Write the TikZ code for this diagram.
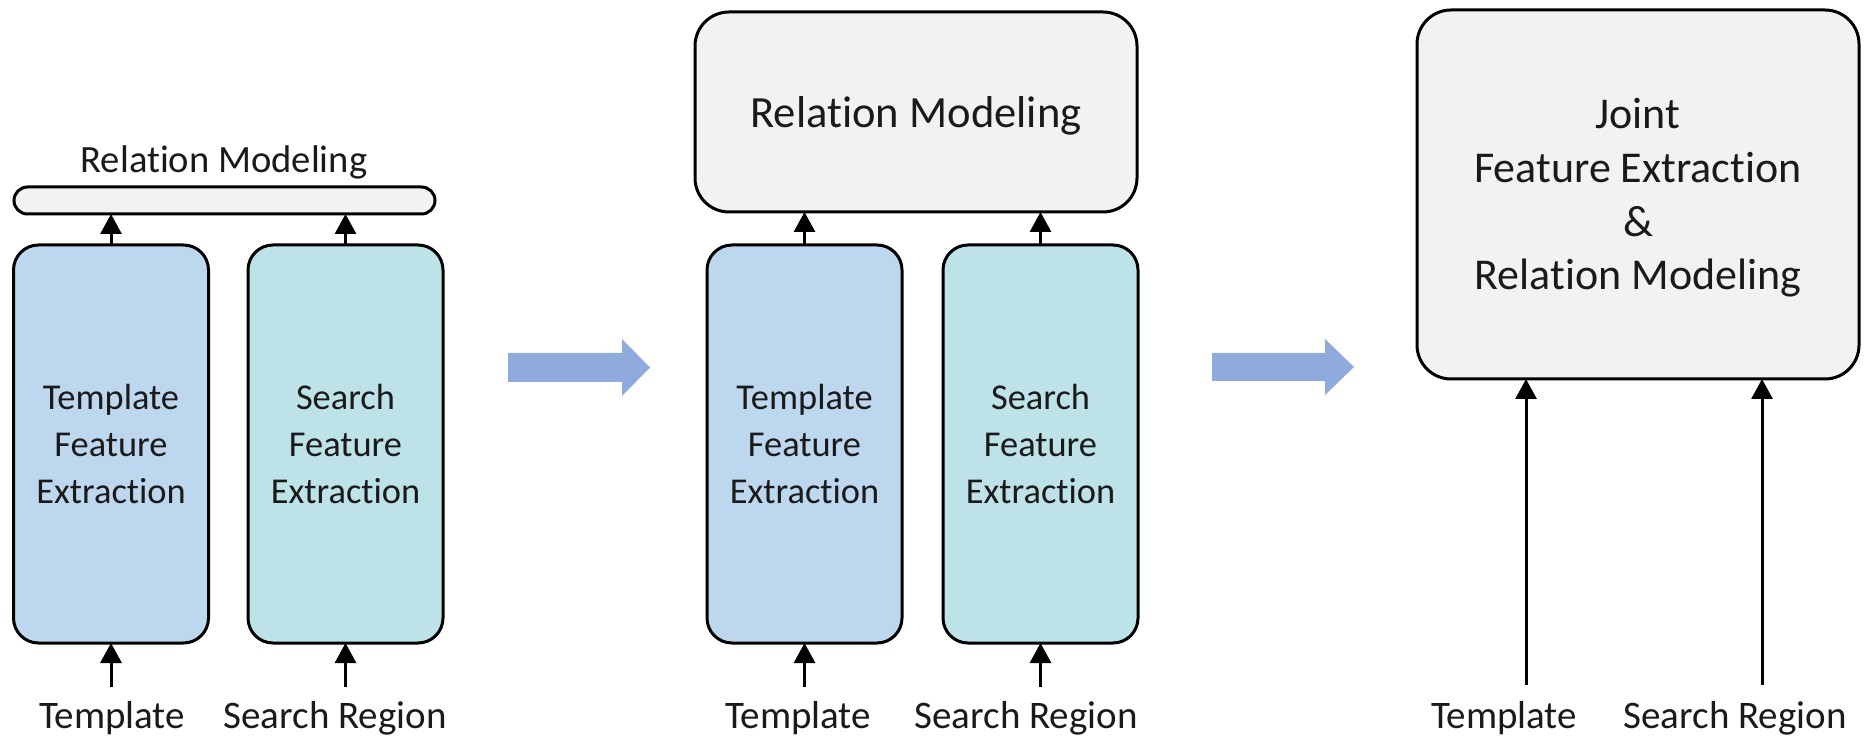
\documentclass[tikz,border=0pt]{standalone}
\usepackage{fontspec}
\setmainfont{Carlito}[Ligatures={NoCommon,NoRequired,NoContextual}]
\usetikzlibrary{arrows.meta}
\definecolor{boxblue}{HTML}{BDD7EE}
\definecolor{boxteal}{HTML}{BDE2E7}
\definecolor{boxgray}{HTML}{F2F2F2}
\definecolor{bigarrow}{HTML}{8FAADC}
\definecolor{txt}{HTML}{1A1A1A}
\begin{document}
\begin{tikzpicture}[x=0.5pt,y=-0.5pt,
  every node/.style={inner sep=0pt, outer sep=0pt, text=txt},
  featbox/.style={draw=black, line width=1.5pt, rounded corners=12.5pt, minimum width=97.5pt, minimum height=199pt, align=center, font=\fontsize{18.2}{23.5}\selectfont},
  graybox/.style={draw=black, line width=1.5pt, fill=boxgray, align=center},
  inlabel/.style={font=\fontsize{19.5}{23}\selectfont},
  conn/.style={line width=1.5pt, -{Triangle[width=10.5pt,length=10pt]}},
  blockarrow/.style={fill=bigarrow, draw=none}
]
\useasboundingbox (0,0) rectangle (1872,742);

% ---------- Panel 1 ----------
\node[graybox, rounded corners=6.75pt, minimum width=210.5pt, minimum height=13.5pt] (bar) at (224.5,200.5) {};
\node[font=\fontsize{19.3}{23}\selectfont] (rm1) at (224,162) {Relation Modeling};
\node[featbox, fill=boxblue] (tf1) at (111,444) {Template\\Feature\\Extraction};
\node[featbox, fill=boxteal] (sf1) at (345.5,444) {Search\\Feature\\Extraction};
\draw[conn] (tf1.north) -- (tf1.north |- bar.south);
\draw[conn] (sf1.north) -- (sf1.north |- bar.south);
\node[inlabel] (t1) at (112,718) {Template};
\node[inlabel] (s1) at (335,718) {Search Region};
\coordinate (t1a) at (111,687);
\coordinate (s1a) at (345.5,687);
\draw[conn] (t1a) -- (tf1.south);
\draw[conn] (s1a) -- (sf1.south);

% ---------- Arrow 1 ----------
\fill[blockarrow] (508,353) -- (622,353) -- (622,339) -- (650,367.5) -- (622,396) -- (622,382) -- (508,382) -- cycle;

% ---------- Panel 2 ----------
\node[graybox, rounded corners=17pt, minimum width=221pt, minimum height=100pt] (rm2) at (916,112) {};
\node[font=\fontsize{22.3}{26}\selectfont] (rm2txt) at (916,116) {Relation Modeling};
\node[featbox, fill=boxblue] (tf2) at (804.5,444) {Template\\Feature\\Extraction};
\node[featbox, fill=boxteal] (sf2) at (1040.5,444) {Search\\Feature\\Extraction};
\draw[conn] (tf2.north) -- (tf2.north |- rm2.south);
\draw[conn] (sf2.north) -- (sf2.north |- rm2.south);
\node[inlabel] (t2) at (798,718) {Template};
\node[inlabel] (s2) at (1026,718) {Search Region};
\coordinate (t2a) at (804.5,687);
\coordinate (s2a) at (1040.5,687);
\draw[conn] (t2a) -- (tf2.south);
\draw[conn] (s2a) -- (sf2.south);

% ---------- Arrow 2 ----------
\fill[blockarrow] (1212,353) -- (1325,353) -- (1325,339) -- (1354,367) -- (1325,395) -- (1325,381) -- (1212,381) -- cycle;

% ---------- Panel 3 ----------
\node[graybox, rounded corners=17pt, minimum width=221pt, minimum height=184.5pt] (joint) at (1638,194.5) {};
\node[align=center, font=\fontsize{22}{26.8}\selectfont] (jtxt) at (1638,198) {Joint\\Feature Extraction\\\&\\Relation Modeling};
\node[inlabel] (t3) at (1504,718) {Template};
\node[inlabel] (s3) at (1735,718) {Search Region};
\coordinate (t3a) at (1526,685);
\coordinate (s3a) at (1762,685);
\draw[conn] (t3a) -- (t3a |- joint.south);
\draw[conn] (s3a) -- (s3a |- joint.south);
\end{tikzpicture}
\end{document}
